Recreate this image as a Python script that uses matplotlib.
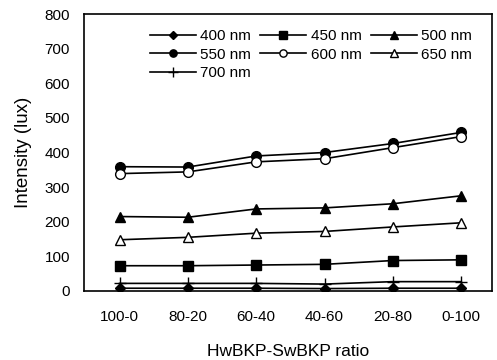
import matplotlib
matplotlib.use('Agg')
import matplotlib.pyplot as plt

plt.rcParams['font.family'] = ['Liberation Sans', 'DejaVu Sans']

ratios = ['100-0', '80-20', '60-40', '40-60', '20-80', '0-100']
nm400 = [8, 8, 8, 7, 8, 8]
nm450 = [73, 73, 75, 77, 88, 90]
nm500 = [215, 213, 237, 240, 252, 275]
nm550 = [359, 358, 390, 400, 426, 458]
nm600 = [339, 344, 373, 382, 414, 446]
nm650 = [148, 155, 167, 172, 185, 197]
nm700 = [22, 22, 22, 20, 27, 27]

x = list(range(len(ratios)))

fig = plt.figure(figsize=(4.97, 3.6), dpi=100)
ax = fig.add_axes([84/497, 1-291/360, (492-84)/497, (291-14)/360])

kw = dict(color='black', linewidth=1.2, markersize=7)
l400, = ax.plot(x, nm400, marker='D', markersize=5, color='black', linewidth=1.2, label='400 nm')
l450, = ax.plot(x, nm450, marker='s', label='450 nm', **kw)
l500, = ax.plot(x, nm500, marker='^', label='500 nm', **kw)
l550, = ax.plot(x, nm550, marker='o', label='550 nm', **kw)
l600, = ax.plot(x, nm600, marker='o', markerfacecolor='white', label='600 nm', **kw)
l650, = ax.plot(x, nm650, marker='^', markerfacecolor='white', label='650 nm', **kw)
l700, = ax.plot(x, nm700, marker='+', color='black', linewidth=1.2, markersize=9, label='700 nm')

ax.set_xlim(-0.52, 5.45)
ax.set_ylim(0, 800)
ax.set_yticks(range(0, 801, 100))
ax.set_xticks(x)
ax.set_xticklabels(ratios)
ax.tick_params(axis='both', length=0, labelsize=11)
ax.tick_params(axis='x', pad=14)
ax.tick_params(axis='y', pad=10)
ax.set_xlabel('HwBKP-SwBKP ratio', fontsize=12.5, labelpad=14)
ax.set_ylabel('Intensity (lux)', fontsize=13.5, labelpad=9)
for s in ax.spines.values():
    s.set_linewidth(1.2)

# row-major order in the legend
handles = [l400, l550, l700, l450, l600, l500, l650]
ax.legend(handles, [h.get_label() for h in handles], ncol=3, frameon=False,
          loc='upper right', bbox_to_anchor=(0.985, 0.995),
          fontsize=11, handlelength=3.0, columnspacing=0.6, handletextpad=0.3,
          labelspacing=0.3, markerscale=0.75)

fig.savefig('out.png', dpi=100)
